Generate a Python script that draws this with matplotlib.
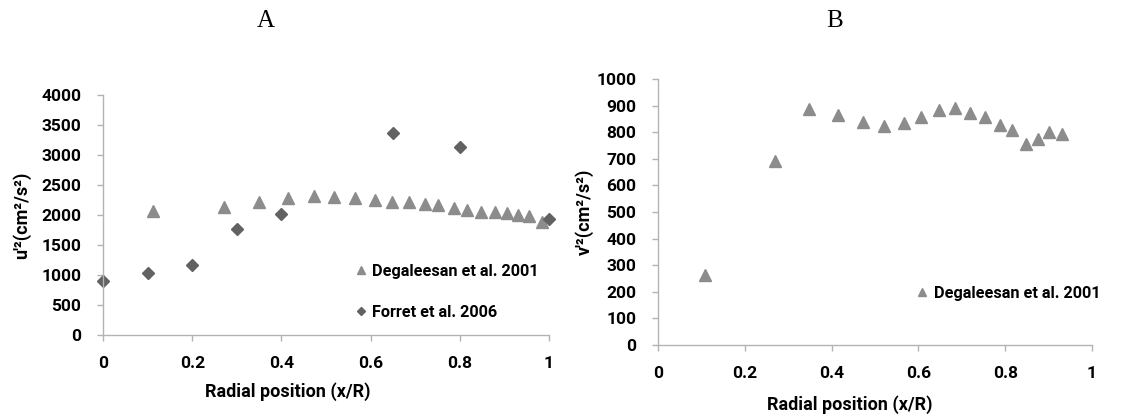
import matplotlib
matplotlib.use('Agg')
import matplotlib.pyplot as plt

# panel A: u'^2
deg_x_a = [0.111, 0.271, 0.350, 0.415, 0.472, 0.519, 0.565, 0.609, 0.648, 0.687,
           0.721, 0.751, 0.786, 0.816, 0.848, 0.879, 0.906, 0.931, 0.956, 0.985]
deg_u = [2063, 2141, 2218, 2285, 2318, 2301, 2285, 2246, 2224, 2218,
         2185, 2163, 2113, 2085, 2058, 2058, 2030, 2002, 1986, 1886]
forret_x = [0.0, 0.1, 0.2, 0.3, 0.4, 0.65, 0.8, 1.0]
forret_u = [902, 1029, 1167, 1764, 2013, 3363, 3136, 1936]

# panel B: v'^2
deg_x_b = [0.109, 0.269, 0.348, 0.415, 0.473, 0.520, 0.566, 0.607, 0.647, 0.685,
           0.718, 0.753, 0.788, 0.816, 0.847, 0.876, 0.902, 0.932]
deg_v = [262, 692, 886, 865, 839, 825, 834, 856, 882, 890,
         874, 857, 826, 807, 757, 776, 800, 794]

x_ticks = [0, 0.2, 0.4, 0.6, 0.8, 1.0]
x_tick_labels = ['0', '0.2', '0.4', '0.6', '0.8', '1']

FONT = 'Roboto'
TICK_SIZE = 12.5
LABEL_SIZE = 13
LEG_SIZE = 11.7
TRI = '#8c8c8c'
DIA = '#626262'
AXC = '#b3b3b3'

plt.rcParams['font.family'] = [FONT, 'DejaVu Sans']
plt.rcParams['font.weight'] = 'bold'

fig = plt.figure(figsize=(11.26, 4.18), dpi=100)
W, H = 1126, 418


def make_axes(l, t, r, b):
    return fig.add_axes([l / W, (H - b) / H, (r - l) / W, (b - t) / H])


def style(ax, ymax, ystep):
    for s in ('top', 'right'):
        ax.spines[s].set_visible(False)
    for s in ('left', 'bottom'):
        ax.spines[s].set_color(AXC)
        ax.spines[s].set_linewidth(1.0)
    ax.set_xlim(0, 1)
    ax.set_ylim(0, ymax)
    ax.set_xticks(x_ticks)
    ax.set_xticklabels(x_tick_labels)
    ax.set_yticks(list(range(0, ymax + 1, ystep)))
    ax.tick_params(axis='both', color=AXC, length=4, width=1.0,
                   labelsize=TICK_SIZE, direction='out')
    ax.tick_params(axis='x', pad=11)
    ax.tick_params(axis='y', pad=11.5)
    for lab in ax.get_xticklabels() + ax.get_yticklabels():
        lab.set_fontweight('bold')


# ---- A ----
axA = make_axes(103, 95, 549, 335)
axA.plot(deg_x_a, deg_u, linestyle='none', marker='^', ms=8, color=TRI,
         mec=TRI, label='Degaleesan et al. 2001', clip_on=False)
axA.plot(forret_x, forret_u, linestyle='none', marker='D', ms=6, color=DIA,
         mec=DIA, label='Forret et al. 2006', clip_on=False)
style(axA, 4000, 500)
axA.set_xlabel('Radial position (x/R)', fontsize=LABEL_SIZE, fontweight='bold', va='center')
axA.xaxis.set_label_coords(0.415, -57 / 240)
axA.set_ylabel("u'²(cm²/s²)", fontsize=LABEL_SIZE, fontweight='bold', va='center')
axA.yaxis.set_label_coords(-81 / 446, 0.5)
axA.legend(loc='center left', bbox_to_anchor=(0.56, 0.181), frameon=False,
           numpoints=1, markerscale=0.7, handlelength=1.0, handletextpad=0.2,
           borderpad=0, borderaxespad=0, labelspacing=1.6,
           prop={'size': LEG_SIZE, 'weight': 'bold'})

# ---- B ----
axB = make_axes(658, 79, 1092, 345)
axB.plot(deg_x_b, deg_v, linestyle='none', marker='^', ms=8, color=TRI,
         mec=TRI, label='Degaleesan et al. 2001', clip_on=False)
style(axB, 1000, 100)
axB.set_xlabel('Radial position (x/R)', fontsize=LABEL_SIZE, fontweight='bold', va='center')
axB.xaxis.set_label_coords(0.442, -60 / 266)
axB.set_ylabel("v'²(cm²/s²)", fontsize=LABEL_SIZE, fontweight='bold', va='center')
axB.yaxis.set_label_coords(-74 / 434, 0.5)
axB.legend(loc='center left', bbox_to_anchor=(0.59, 0.195), frameon=False,
           numpoints=1, markerscale=0.7, handlelength=1.0, handletextpad=0.2,
           borderpad=0, borderaxespad=0,
           prop={'size': LEG_SIZE, 'weight': 'bold'})

# panel letters
fig.text(266 / W, 1 - 21 / H, 'A', family='Liberation Serif', fontsize=18,
         fontweight='normal', ha='center', va='center')
fig.text(835 / W, 1 - 21 / H, 'B', family='Liberation Serif', fontsize=18,
         fontweight='normal', ha='center', va='center')

fig.savefig('out.png', dpi=100, facecolor='white')
